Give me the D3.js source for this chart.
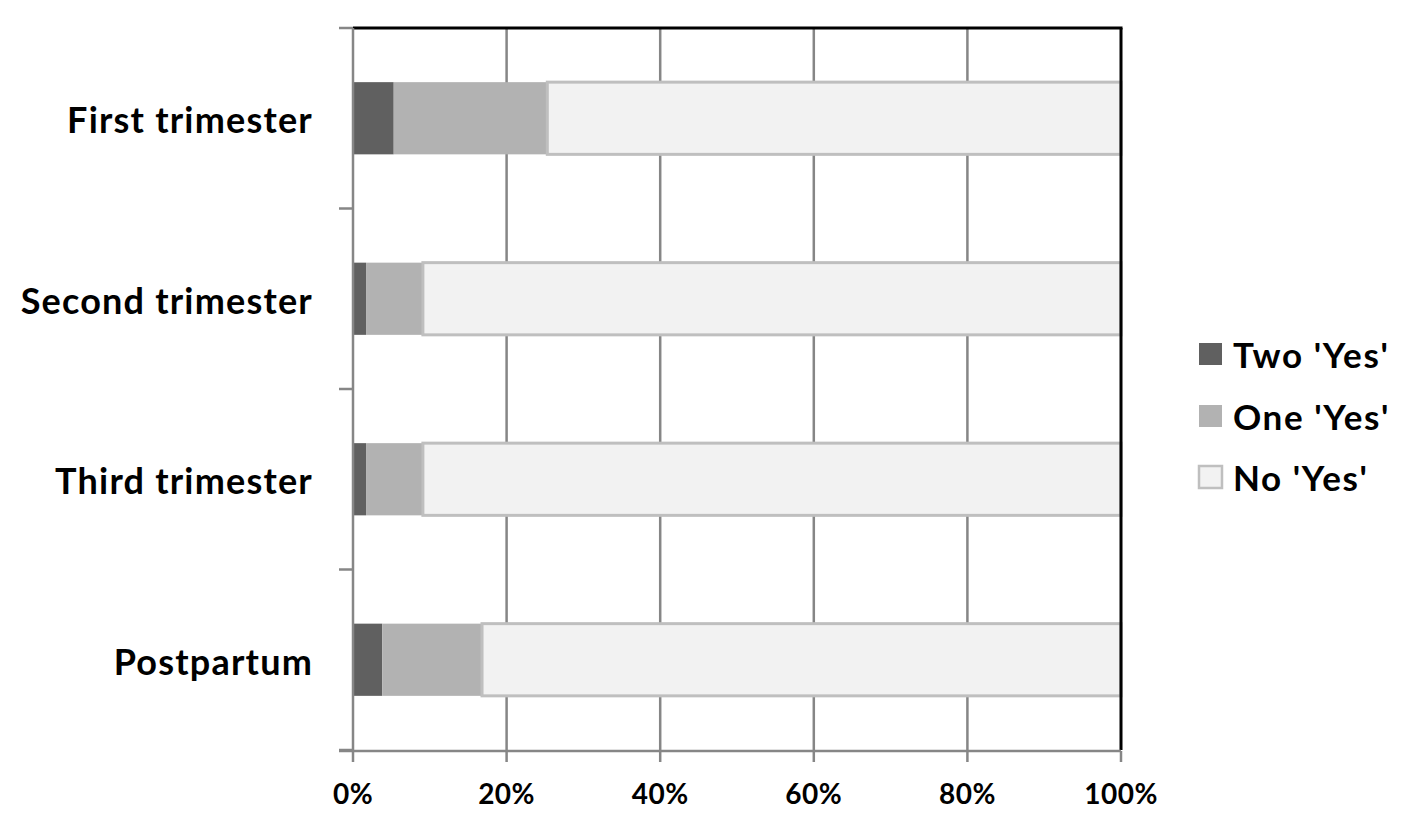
<!DOCTYPE html>
<html>
<head>
<meta charset="utf-8">
<script src="https://cdn.jsdelivr.net/npm/d3@7"></script>
<style>
  html, body { margin: 0; padding: 0; background: #fff; }
  svg { display: block; }
  text { font-family: Lato, "Open Sans", sans-serif; fill: #000; }
</style>
</head>
<body>
<svg id="chart" width="1417" height="822"></svg>
<script>
// ---- data ----
const categories = ["First trimester", "Second trimester", "Third trimester", "Postpartum"];
const seriesNames = ["Two 'Yes'", "One 'Yes'", "No 'Yes'"];
const twoYes = [5.3, 1.7, 1.7, 3.8];
const oneYes = [20.0, 7.4, 7.4, 13.0];
const noYes  = [74.7, 90.9, 90.9, 83.2];
const xTicks = [0, 20, 40, 60, 80, 100];
const xTickLabels = ["0%", "20%", "40%", "60%", "80%", "100%"];

(function () {
// ---- styles ----
const fills = ["#606060", "#b2b2b2", "#f2f2f2"];
const strokes = ["none", "none", "#bfbfbf"];

const svg = d3.select("#chart");
const pLeft = 353, pRight = 1121, pTop = 28, pBottom = 750;

const x = d3.scaleLinear().domain([0, 100]).range([pLeft, pRight]);
const y = d3.scaleBand().domain(categories).range([pTop, pBottom]).paddingInner(0.6).paddingOuter(0.3);

// gridlines (vertical)
svg.append("g").selectAll("line")
  .data(xTicks.filter(t => t > 0 && t < 100))
  .join("line")
  .attr("x1", d => x(d)).attr("x2", d => x(d))
  .attr("y1", pTop).attr("y2", pBottom)
  .attr("stroke", "#868686").attr("stroke-width", 2.5);

// stacked bars
const rows = categories.map((c, i) => ({ cat: c, vals: [twoYes[i], oneYes[i], noYes[i]] }));
const stackData = rows.map(r => {
  let acc = 0;
  return r.vals.map((v, k) => { const s = { cat: r.cat, k, x0: acc, x1: acc + v }; acc += v; return s; });
}).flat();

svg.append("g").selectAll("rect")
  .data(stackData)
  .join("rect")
  .attr("x", d => x(d.x0))
  .attr("y", d => y(d.cat))
  .attr("width", d => x(d.x1) - x(d.x0))
  .attr("height", y.bandwidth())
  .attr("fill", d => fills[d.k])
  .attr("stroke", d => strokes[d.k])
  .attr("stroke-width", 3);

// plot border top & right (black)
svg.append("line").attr("x1", pLeft).attr("x2", pRight + 1.5).attr("y1", pTop).attr("y2", pTop)
  .attr("stroke", "#000").attr("stroke-width", 3);
svg.append("line").attr("x1", pRight).attr("x2", pRight).attr("y1", pTop).attr("y2", pBottom)
  .attr("stroke", "#000").attr("stroke-width", 3);

// y axis (left, gray) with ticks at band boundaries
const step = y.step();
const yBounds = d3.range(categories.length + 1).map(i => pTop + i * step);
svg.append("line").attr("x1", pLeft).attr("x2", pLeft).attr("y1", pTop).attr("y2", pBottom + 1)
  .attr("stroke", "#868686").attr("stroke-width", 2.5);
svg.append("g").selectAll("line").data(yBounds).join("line")
  .attr("x1", pLeft - 14).attr("x2", pLeft).attr("y1", d => d).attr("y2", d => d)
  .attr("stroke", "#868686").attr("stroke-width", 2.5);

// x axis (bottom, gray)
svg.append("line").attr("x1", pLeft - 14).attr("x2", pRight).attr("y1", pBottom + 1).attr("y2", pBottom + 1)
  .attr("stroke", "#868686").attr("stroke-width", 2.5);
svg.append("g").selectAll("line").data(xTicks).join("line")
  .attr("x1", d => x(d)).attr("x2", d => x(d)).attr("y1", pBottom + 1).attr("y2", pBottom + 12)
  .attr("stroke", "#868686").attr("stroke-width", 2.5);

// x tick labels
svg.append("g").selectAll("text").data(xTicks).join("text")
  .attr("x", d => x(d)).attr("y", 804)
  .attr("text-anchor", "middle")
  .attr("font-size", 28).attr("font-weight", "bold").attr("letter-spacing", 0.5)
  .text((d, i) => xTickLabels[i]);

// category labels
svg.append("g").selectAll("text").data(categories).join("text")
  .attr("x", 313).attr("y", d => y(d) + y.bandwidth() / 2 + 2)
  .attr("dy", "0.36em")
  .attr("text-anchor", "end")
  .attr("font-size", 36).attr("font-weight", "bold").attr("letter-spacing", 1.2)
  .text(d => d);

// legend
const legY = [354, 416, 477];
const lg = svg.append("g").selectAll("g").data(seriesNames).join("g");
lg.append("rect")
  .attr("x", 1199).attr("y", (d, i) => legY[i] - 11)
  .attr("width", 23).attr("height", 22)
  .attr("fill", (d, i) => fills[i])
  .attr("stroke", (d, i) => strokes[i]).attr("stroke-width", 2.5);
lg.append("text")
  .attr("x", 1233).attr("y", (d, i) => legY[i] + 1)
  .attr("dy", "0.36em")
  .attr("font-size", 35).attr("font-weight", "bold").attr("letter-spacing", 1.6)
  .text(d => d);
})();
</script>
</body>
</html>
